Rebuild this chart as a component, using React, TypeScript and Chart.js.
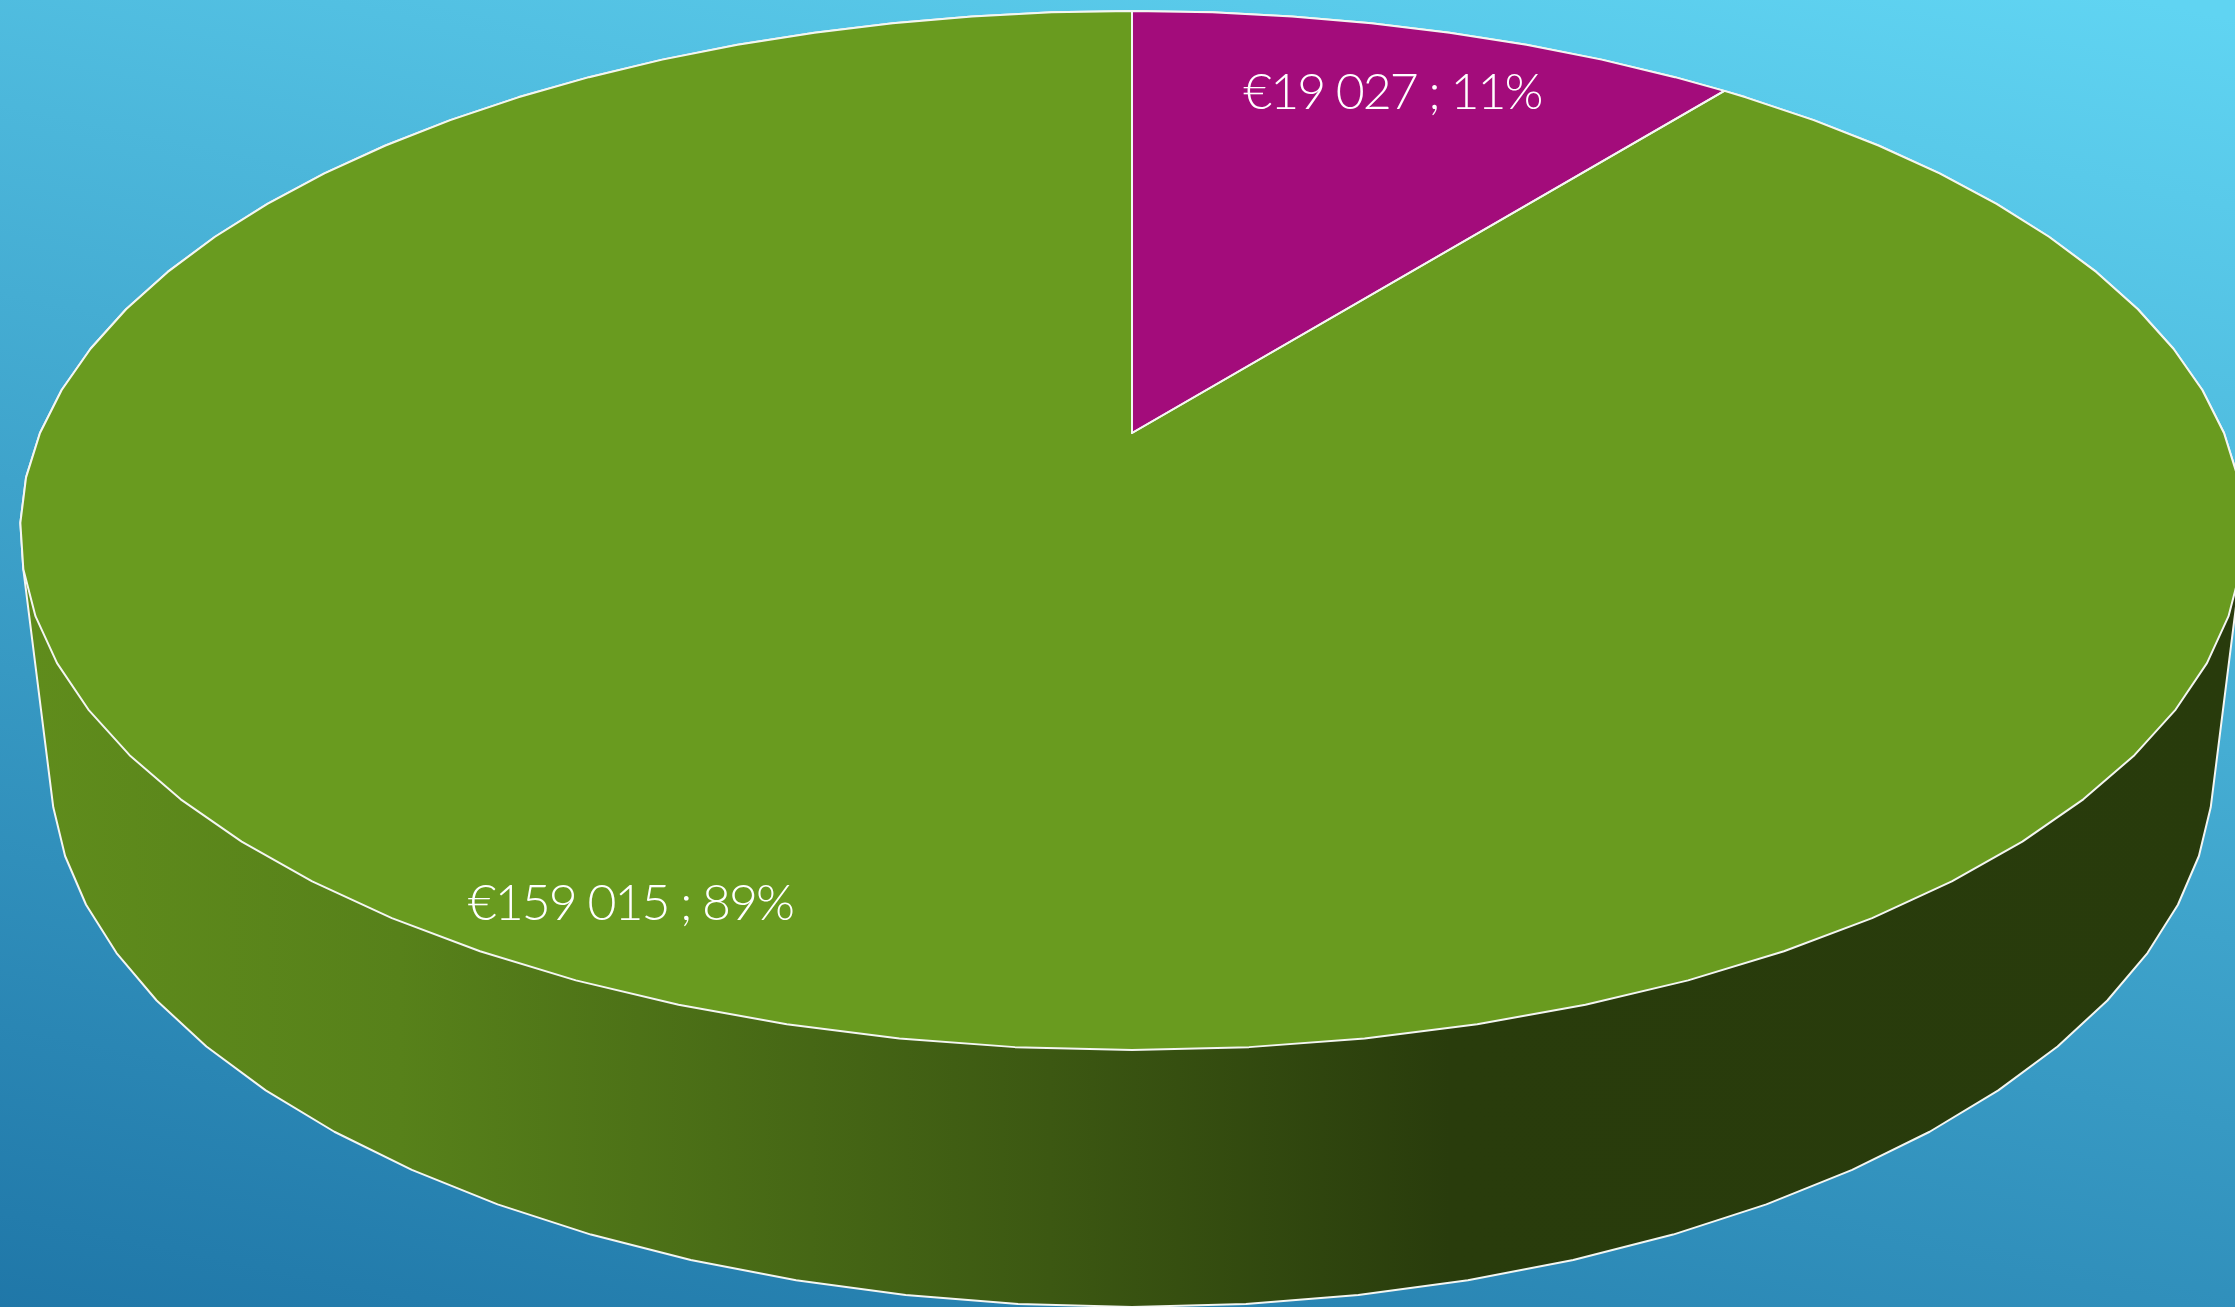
import React, { useEffect, useRef } from 'react';
import { Chart, registerables } from 'chart.js';

Chart.register(...registerables);

// ---- data ----
const categories = ['Part A', 'Part B'];
const values = [19027, 159015];
const sliceColors = ['#A30C7B', '#699B1F'];

// ---- layout / style ----
const W = 2235;
const H = 1307;
const view = {
  cx: 1132, cy: 433, // projected pie centre
  u: 1092, // horizontal scale of the top face
  v: 501.2, // vertical scale of the top face
  k: 0.1877, // perspective strength
  bx: 0.973, byA: 215.5, byB: 1.0395, // bottom face mapping (extrusion)
  step: 5, // polygon facet in degrees
};
const labelRadius = [0.83, 0.843];
const labelShift = [[0, 0], [-145, 0]];
const labelFontSize = 50;

function fmtEuro(v: number) {
  const s = Math.round(v).toString().replace(/\B(?=(\d{3})+(?!\d))/g, ' ');
  return '€' + s;
}

function project(alpha: number, r: number): [number, number] {
  const X = r * Math.sin(alpha);
  const Z = r * Math.cos(alpha);
  const d = 1 + view.k * Z;
  return [view.cx + (view.u * X) / d, view.cy - (view.v * Z) / d];
}
function lower(p: [number, number]): [number, number] {
  return [view.cx + view.bx * (p[0] - view.cx), view.byA + view.byB * p[1]];
}
function arcAngles(a0: number, a1: number) {
  const st = (view.step * Math.PI) / 180;
  const list = [a0];
  let j = Math.floor(a0 / st + 1e-9) + 1;
  while (j * st < a1 - 1e-6) {
    list.push(j * st);
    j++;
  }
  list.push(a1);
  return list;
}
function hexToRgb(hex: string) {
  const n = parseInt(hex.slice(1), 16);
  return [(n >> 16) & 255, (n >> 8) & 255, n & 255];
}
function shade(hex: string, f: number) {
  const [r, g, b] = hexToRgb(hex);
  return `rgb(${Math.round(r * f)},${Math.round(g * f)},${Math.round(b * f)})`;
}
function area(pts: [number, number][]) {
  let a = 0;
  for (let i = 0; i < pts.length; i++) {
    const p = pts[i], q = pts[(i + 1) % pts.length];
    a += p[0] * q[1] - q[0] * p[1];
  }
  return a / 2;
}
function hull(points: [number, number][]) {
  const pts = points.slice().sort((a, b) => a[0] - b[0] || a[1] - b[1]);
  const cross = (o: number[], a: number[], b: number[]) => (a[0] - o[0]) * (b[1] - o[1]) - (a[1] - o[1]) * (b[0] - o[0]);
  const lo: [number, number][] = [];
  for (const p of pts) {
    while (lo.length >= 2 && cross(lo[lo.length - 2], lo[lo.length - 1], p) <= 0) lo.pop();
    lo.push(p);
  }
  const up: [number, number][] = [];
  for (let i = pts.length - 1; i >= 0; i--) {
    const p = pts[i];
    while (up.length >= 2 && cross(up[up.length - 2], up[up.length - 1], p) <= 0) up.pop();
    up.push(p);
  }
  up.pop();
  lo.pop();
  return lo.concat(up);
}

const backgroundPlugin = {
  id: 'bg',
  beforeDraw(chart: any) {
    const ctx = chart.ctx as CanvasRenderingContext2D;
    const g = ctx.createLinearGradient(-277, 1343, 87, -424);
    g.addColorStop(0, '#1c72a4');
    g.addColorStop(1, '#60d4f2');
    ctx.save();
    ctx.fillStyle = g;
    ctx.fillRect(0, 0, chart.width, chart.height);
    ctx.restore();
  },
};

const pie3dPlugin = {
  id: 'pie3d',
  beforeDatasetsDraw(chart: any) {
    const ctx = chart.ctx as CanvasRenderingContext2D;
    const meta = chart.getDatasetMeta(0);
    const ds = chart.data.datasets[0];
    const total = (ds.data as number[]).reduce((a, b) => a + b, 0);
    const slices = meta.data.map((el: any, i: number) => {
      const p = el.getProps(['startAngle', 'endAngle'], true);
      const a0 = p.startAngle + Math.PI / 2;
      const a1 = p.endAngle + Math.PI / 2;
      const angs = arcAngles(a0, a1);
      const top = angs.map((a) => project(a, 1));
      const bot = top.map(lower);
      return { i, a0, a1, top, bot, color: ds.backgroundColor[i] as string, value: ds.data[i] as number };
    });

    ctx.save();
    ctx.lineJoin = 'round';

    // side faces, back to front
    const order = [...slices].sort((s, t) => Math.cos((t.a0 + t.a1) / 2) - Math.cos((s.a0 + s.a1) / 2));
    for (const s of order) {
      const g = ctx.createLinearGradient(0, 0, W, 0);
      g.addColorStop(0, shade(s.color, 0.91));
      g.addColorStop(400 / W, shade(s.color, 0.83));
      g.addColorStop(1050 / W, shade(s.color, 0.57));
      g.addColorStop(1450 / W, shade(s.color, 0.39));
      g.addColorStop(1, shade(s.color, 0.38));
      ctx.beginPath();
      for (let j = 0; j < s.top.length - 1; j++) {
        let q: [number, number][] = [s.top[j], s.top[j + 1], s.bot[j + 1], s.bot[j]];
        if (area(q) < 0) q = q.reverse();
        ctx.moveTo(q[0][0], q[0][1]);
        for (let m = 1; m < 4; m++) ctx.lineTo(q[m][0], q[m][1]);
        ctx.closePath();
      }
      ctx.fillStyle = g;
      ctx.fill('nonzero');
    }

    // silhouette outline
    const all: [number, number][] = [];
    slices.forEach((s: any) => {
      all.push(...s.top, ...s.bot);
    });
    const h = hull(all);
    ctx.beginPath();
    h.forEach((p, j) => (j ? ctx.lineTo(p[0], p[1]) : ctx.moveTo(p[0], p[1])));
    ctx.closePath();
    ctx.strokeStyle = '#F4F6F2';
    ctx.lineWidth = 2;
    ctx.stroke();

    // top faces
    const c = project(0, 0);
    for (const s of slices) {
      ctx.beginPath();
      ctx.moveTo(c[0], c[1]);
      s.top.forEach((p: [number, number]) => ctx.lineTo(p[0], p[1]));
      ctx.closePath();
      ctx.fillStyle = s.color;
      ctx.fill();
    }
    for (const s of slices) {
      ctx.beginPath();
      ctx.moveTo(c[0], c[1]);
      s.top.forEach((p: [number, number]) => ctx.lineTo(p[0], p[1]));
      ctx.closePath();
      ctx.strokeStyle = '#F4F6F2';
      ctx.lineWidth = 2;
      ctx.stroke();
    }

    // labels
    ctx.fillStyle = '#FFFFFF';
    ctx.font = `300 ${labelFontSize}px Lato, "Open Sans", "DejaVu Sans", sans-serif`;
    (ctx as any).letterSpacing = '-2px';
    ctx.textAlign = 'center';
    ctx.textBaseline = 'alphabetic';
    for (const s of slices) {
      const mid = (s.a0 + s.a1) / 2;
      const p = project(mid, labelRadius[s.i]);
      const pct = Math.round((s.value / total) * 100);
      const text = `${fmtEuro(s.value)} ; ${pct}%`;
      const x = p[0] + labelShift[s.i][0];
      const y = p[1] + labelShift[s.i][1] + labelFontSize * 0.36;
      ctx.fillText(text, x, y);
    }
    ctx.restore();
    return false;
  },
};

export default function App() {
  const ref = useRef<HTMLCanvasElement>(null);
  useEffect(() => {
    if (!ref.current) return;
    const chart = new Chart(ref.current, {
      type: 'pie',
      data: {
        labels: categories,
        datasets: [{ data: values, backgroundColor: sliceColors, borderColor: '#ffffff', borderWidth: 2 }],
      },
      options: {
        animation: false,
        responsive: false,
        devicePixelRatio: 1,
        events: [],
        plugins: { legend: { display: false }, tooltip: { enabled: false } },
      },
      plugins: [backgroundPlugin, pie3dPlugin],
    } as any);
    return () => chart.destroy();
  }, []);
  return (
    <div style={{ position: 'fixed', left: 0, top: 0, width: W, height: H, overflow: 'hidden' }}>
      <canvas ref={ref} width={W} height={H} style={{ display: 'block', width: W, height: H }} />
    </div>
  );
}
